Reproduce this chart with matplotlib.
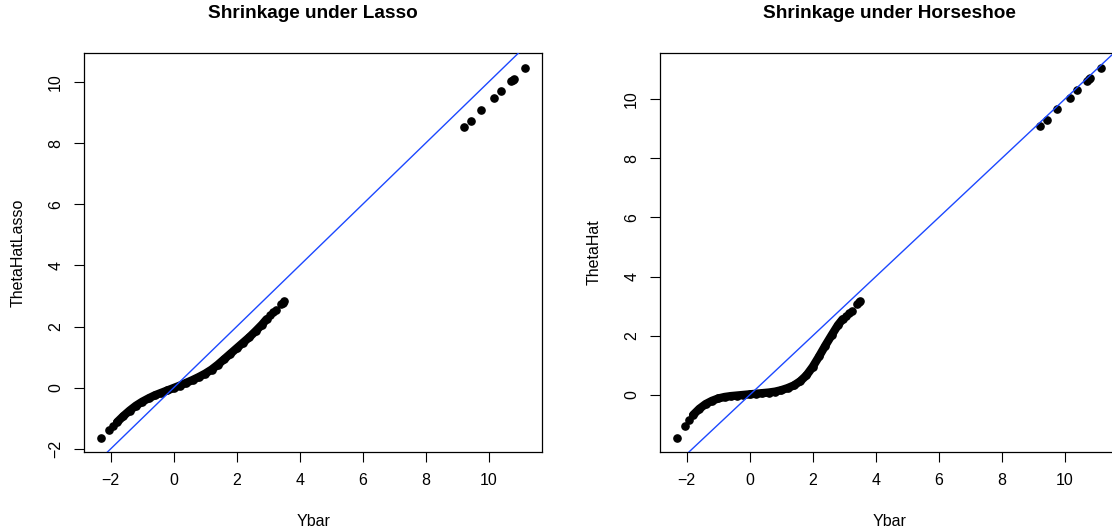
import numpy as np
import matplotlib
matplotlib.use("Agg")
import matplotlib.pyplot as plt

plt.rcParams['font.family'] = ['Liberation Sans', 'DejaVu Sans']

# observed means, same for both panels
ybar = [-2.31, -2.07, -1.93,
        -1.80, -1.60, -1.40, -1.20, -1.00, -0.80, -0.60, -0.40, -0.20, 0.00,
        0.20, 0.40, 0.60, 0.80, 1.00, 1.20, 1.40, 1.60, 1.80, 2.00, 2.20,
        2.40, 2.60, 2.80, 2.95,
        3.05, 3.15, 3.25, 3.40, 3.46, 3.50,
        9.21, 9.42, 9.76, 10.15, 10.40, 10.70, 10.76, 10.80, 11.16]

# posterior means under the lasso
theta_lasso = [-1.63, -1.40, -1.25,
               -1.13, -0.93, -0.75, -0.59, -0.46, -0.35, -0.25, -0.17, -0.09, -0.01,
               0.07, 0.16, 0.25, 0.35, 0.46, 0.59, 0.75, 0.93, 1.11, 1.29, 1.47,
               1.65, 1.85, 2.06, 2.24,
               2.36, 2.46, 2.55, 2.73, 2.78, 2.82,
               8.51, 8.73, 9.07, 9.46, 9.71, 10.02, 10.06, 10.11, 10.47]

# posterior means under the horseshoe
theta_hs = [-1.44, -1.06, -0.85,
            -0.68, -0.47, -0.31, -0.20, -0.12, -0.07, -0.04, -0.02, 0.00, 0.02,
            0.04, 0.06, 0.08, 0.11, 0.16, 0.23, 0.32, 0.46, 0.66, 0.95, 1.30,
            1.67, 2.02, 2.36, 2.56,
            2.67, 2.76, 2.85, 3.08, 3.13, 3.17,
            9.09, 9.29, 9.66, 10.05, 10.30, 10.62, 10.67, 10.72, 11.07]

# the points between these indices overlap into a solid band
band_start, band_end = 3, 28

xticks = [-2, 0, 2, 4, 6, 8, 10]
yticks_lasso = [-2, 0, 2, 4, 6, 8, 10]
yticks_hs = [0, 2, 4, 6, 8, 10]

W, H = 1112, 531
fig = plt.figure(figsize=(W / 100, H / 100), dpi=100)

def panel(left_px, theta, title, ylab, yticks):
    ax = fig.add_axes([left_px / W, (H - 452.3) / H, 458.3 / W, 399.6 / H])
    x = np.array(ybar)
    y = np.array(theta)
    ax.plot(x[band_start:band_end], y[band_start:band_end], '-', color='black',
            lw=6.0, solid_capstyle='round', solid_joinstyle='round', zorder=2)
    ax.plot(x, y, 'o', color='black', ms=5.2, mec='black', zorder=3)
    ax.axline((0, 0), slope=1, color='#1c48ff', lw=1.0, zorder=4)
    ax.margins(0.04)
    ax.set_xticks(xticks)
    ax.set_yticks(yticks)
    ax.tick_params(direction='out', length=7, width=0.8, labelsize=11.5, pad=8)
    ax.tick_params(axis='y', labelrotation=90)
    for lab in ax.get_yticklabels():
        lab.set_va('center')
    for s in ax.spines.values():
        s.set_linewidth(0.9)
    ax.set_xlabel('Ybar', fontsize=11.5)
    ax.xaxis.set_label_coords(0.5, -(521 - 452.3) / 399.6)
    ax.xaxis.label.set_va('center')
    ax.set_ylabel(ylab, fontsize=11.5)
    ax.yaxis.set_label_coords(-66 / 458.3, 0.5)
    ax.yaxis.label.set_va('center')
    ax.text(0.5, 1 + (52.7 - 14) / 399.6, title, transform=ax.transAxes,
            ha='center', va='center', fontsize=13.7, fontweight='bold')
    return ax

panel(84, theta_lasso, 'Shrinkage under Lasso', 'ThetaHatLasso', yticks_lasso)
panel(660, theta_hs, 'Shrinkage under Horseshoe', 'ThetaHat', yticks_hs)

fig.savefig('out.png', dpi=100)
